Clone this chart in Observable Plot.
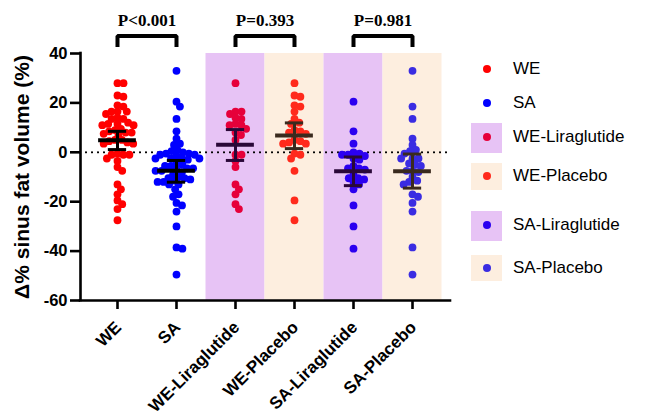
<!DOCTYPE html>
<html><head><meta charset="utf-8">
<script src="https://cdn.jsdelivr.net/npm/d3@7"></script>
<script src="https://cdn.jsdelivr.net/npm/@observablehq/plot@0.6"></script>
<style>
body{margin:0;background:#fff;}
#wrap{position:relative;width:650px;height:419px;font-family:"Liberation Sans",Arial,sans-serif;}
#legend{position:absolute;left:0;top:0;width:650px;height:419px;pointer-events:none;}
.sq{position:absolute;width:31px;}
.ld{position:absolute;width:8px;height:8px;border-radius:50%;}
.lt{position:absolute;font-size:17px;line-height:20px;color:#000;white-space:nowrap;}
</style></head><body><div id="wrap"><div id="chart"></div><div id="legend"></div></div>
<script>
// ---- data ----
const categories = ["WE", "SA", "WE-Liraglutide", "WE-Placebo", "SA-Liraglutide", "SA-Placebo"];
const weLiraglutide = [28, 16.5, 15.5, 16.5, 13.5, 14, 11, 11.5, 11, 9.5, 7, 8, 5, -1, -1, -3.5, -6, -13, -15, -17, -21, -23];
const wePlacebo = [28, 23, 22.5, 19, 18.5, 16.5, 13.5, 12, 11.5, 9, 8.5, 8, 7.5, 5, 4.5, 4, 3.5, 3.5, -0.5, -1, -2.5, -7.5, -19.5, -27.5];
const saLiraglutide = [20.5, 8.5, 3.5, 0, -0.5, -1, -1, -1.5, -2.5, -3, -5.5, -6.5, -6.5, -7, -9, -10.5, -10.5, -11, -12, -13, -15, -21.5, -30, -39];
const saPlacebo = [33, 18.5, 13.5, 5.5, 3, 1, 0.5, -0.5, -2.5, -2.5, -2.5, -4.5, -5, -5.5, -7.5, -7.5, -8, -10, -11.5, -12, -13, -17, -18, -20.5, -24, -38.5, -49.5];
const we = [...weLiraglutide, ...wePlacebo];
const sa = [...saLiraglutide, ...saPlacebo];
const groupValues = [we, sa, weLiraglutide, wePlacebo, saLiraglutide, saPlacebo];
const means = [4.9, -7.5, 3.1, 6.8, -7.7, -7.7];
const ciLow = [1.1, -12.1, -3.3, 1.5, -13.5, -14.5];
const ciHigh = [8.5, -3.3, 9.2, 11.9, -1.9, -0.7];
const pLabels = ["P<0.001", "P=0.393", "P=0.981"];
const pPairs = [[0, 1], [2, 3], [4, 5]];
const yTicks = [-60, -40, -20, 0, 20, 40];
const yLabel = "Δ% sinus fat volume (%)";

// ---- styles ----
const dotColors = ["#ff0000", "#0000ff", "#e6003a", "#ff2a1c", "#2b00f0", "#3a2ce2"];
const barColors = ["#000000", "#000000", "#2a0838", "#3a2a1e", "#2a0838", "#3a2a1e"];
const bandColors = [null, null, "#e7c3f5", "#fdeedf", "#e7c3f5", "#fdeedf"];

const W = 650, H = 419, mL = 80, mR = 200, mT = 53, mB = 119;
const xDomain = [-0.627, 5.644];
const pxPerX = (W - mL - mR) / (xDomain[1] - xDomain[0]);
const pxPerY = (H - mT - mB) / (d3.max(yTicks) - d3.min(yTicks));
const R = 3.9, GAP = 6.0;

function swarm(values, idx) {
  const placed = [];
  const sorted = values.slice().sort((a, b) => b - a);
  const out = [];
  for (const v of sorted) {
    const py = v * pxPerY;
    const cands = [0];
    for (const p of placed) {
      const dy = py - p.py;
      if (Math.abs(dy) >= GAP) continue;
      const dx = Math.sqrt(GAP * GAP - dy * dy);
      cands.push(p.px + dx + 0.01, p.px - dx - 0.01);
    }
    cands.sort((a, b) => Math.abs(a) - Math.abs(b));
    let px = 0;
    for (const c of cands) {
      if (placed.every(p => (p.px - c) ** 2 + (p.py - py) ** 2 >= GAP * GAP - 0.05)) { px = c; break; }
    }
    placed.push({px, py});
    out.push({i: idx, value: v, x: idx + px / pxPerX, fill: dotColors[idx]});
  }
  return out;
}
const points = groupValues.flatMap((vals, i) => swarm(vals, i));
const summary = categories.map((c, i) => ({i, mean: means[i], lo: ciLow[i], hi: ciHigh[i], stroke: barColors[i]}));
const bands = categories.map((c, i) => ({i, fill: bandColors[i]})).filter(d => d.fill);
const yMin = d3.min(yTicks), yMax = d3.max(yTicks);
const bracketLow = 42.6, bracketHigh = 47.1, pTextY = 51.2;
const bracketPts = pLabels.flatMap((lab, k) => {
  const [a, b] = pPairs[k];
  return [{lab, x: a, y: bracketLow}, {lab, x: a, y: bracketHigh}, {lab, x: b, y: bracketHigh}, {lab, x: b, y: bracketLow}];
});
const pText = pLabels.map((lab, k) => ({lab, x: (pPairs[k][0] + pPairs[k][1]) / 2}));
const catTicks = categories.map((name, i) => ({name, i}));

const chart = Plot.plot({
  width: W, height: H,
  marginLeft: mL, marginRight: mR, marginTop: mT, marginBottom: mB,
  x: {domain: xDomain},
  y: {domain: [yMin, yMax]},
  color: {type: "identity"},
  style: {fontFamily: "'Liberation Sans', Arial, sans-serif", background: "#fff"},
  marks: [
    Plot.rect(bands, {x1: d => d.i - 0.5, x2: d => d.i + 0.5, y1: yMin, y2: yMax, fill: "fill"}),
    Plot.ruleY([0], {stroke: "#000", strokeWidth: 2.2, strokeDasharray: "0,6", strokeLinecap: "round"}),
    Plot.dot(points, {x: "x", y: "value", r: R, fill: "fill", stroke: null}),
    Plot.ruleX(summary, {x: "i", y1: "lo", y2: "hi", stroke: "stroke", strokeWidth: 3}),
    Plot.ruleY(summary, {y: "mean", x1: d => d.i - 0.32, x2: d => d.i + 0.32, stroke: "stroke", strokeWidth: 4}),
    Plot.ruleY(summary, {y: "lo", x1: d => d.i - 0.155, x2: d => d.i + 0.155, stroke: "stroke", strokeWidth: 3}),
    Plot.ruleY(summary, {y: "hi", x1: d => d.i - 0.155, x2: d => d.i + 0.155, stroke: "stroke", strokeWidth: 3}),
    Plot.ruleX([xDomain[0]], {stroke: "#000", strokeWidth: 2.6, strokeLinecap: "square"}),
    Plot.ruleY([yMin], {stroke: "#000", strokeWidth: 2.6, strokeLinecap: "square"}),
    Plot.axisY({ticks: yTicks, tickSize: 10, tickPadding: 3, fontSize: 16.5, fontWeight: "bold", strokeWidth: 2.6, label: null, tickFormat: d => String(d)}),
    Plot.axisX({ticks: d3.range(categories.length), tickSize: 9, strokeWidth: 2.6, tickFormat: () => "", label: null}),
    Plot.text(catTicks, {x: "i", y: yMin, dy: 24, dx: 1, text: "name", rotate: -45, textAnchor: "end", lineAnchor: "middle", fontSize: 17, fontWeight: "bold", fill: "#000"}),
    Plot.text([yLabel], {frameAnchor: "left", rotate: -90, dx: -58, text: d => d, fontSize: 21, fontWeight: "bold", textAnchor: "middle", lineAnchor: "middle", fill: "#000"}),
    Plot.line(bracketPts, {x: "x", y: "y", z: "lab", stroke: "#000", strokeWidth: 4, strokeLinejoin: "miter", strokeLinecap: "butt"}),
    Plot.text(pText, {x: "x", y: pTextY, text: "lab", fontSize: 17, fontWeight: "bold", fontFamily: "'Liberation Serif', 'Times New Roman', serif", fill: "#000", lineAnchor: "bottom"})
  ]
});
document.getElementById("chart").appendChild(chart);

// ---- legend (HTML overlay on the right) ----
const legendRows = [
  {name: "WE", y: 69, sq: null},
  {name: "SA", y: 103, sq: null},
  {name: "WE-Liraglutide", y: 137, sq: [123, 30]},
  {name: "WE-Placebo", y: 176, sq: [163, 27]},
  {name: "SA-Liraglutide", y: 225, sq: [211, 30]},
  {name: "SA-Placebo", y: 268, sq: [255, 26]}
];
const leg = d3.select("#legend");
legendRows.forEach((row, i) => {
  const ci = categories.indexOf(row.name);
  if (row.sq) leg.append("div").attr("class", "sq").style("left", "471px").style("top", row.sq[0] + "px").style("height", row.sq[1] + "px").style("background", bandColors[ci]);
  leg.append("div").attr("class", "ld").style("left", (487 - 4) + "px").style("top", (row.y - 4) + "px").style("background", dotColors[ci]);
  leg.append("div").attr("class", "lt").style("left", "513px").style("top", (row.y - 10) + "px").text(row.name);
});
</script></body></html>
